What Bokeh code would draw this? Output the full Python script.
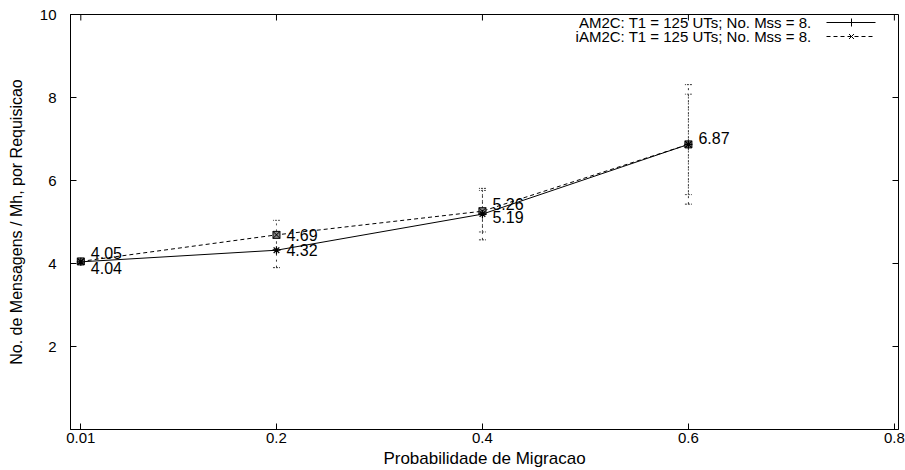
from bokeh.plotting import figure
from bokeh.models import Range1d, FixedTicker, ColumnDataSource, Whisker, TeeHead
from bokeh.core.properties import value
from bokeh.embed import file_html
from bokeh.resources import INLINE

# ---- data ----
prob = [0.01, 0.2, 0.4, 0.6]
am2c = [4.04, 4.32, 5.19, 6.87]
iam2c = [4.05, 4.69, 5.26, 6.87]
err_am2c = [0.03, 0.42, 0.62, 1.44]
err_iam2c = [0.03, 0.35, 0.50, 1.21]
x_ticks = [0.01, 0.2, 0.4, 0.6, 0.8]
x_tick_labels = ["0.01", "0.2", "0.4", "0.6", "0.8"]
y_ticks = [2, 4, 6, 8, 10]
legend_labels = ["AM2C: T1 = 125 UTs; No. Mss = 8.", "iAM2C: T1 = 125 UTs; No. Mss = 8."]
x_label = "Probabilidade de Migracao"
y_label = "No. de Mensagens / Mh, por Requisicao"

# ---- style ----
FONT = "Liberation Sans"
W, H = 905, 470
FL, FR, FT, FB = 70, 898, 14, 429
XMIN, XMAX, YMIN, YMAX = 0.0, 0.804, 0.0, 10.0
TICK = 6

def px2x(px):
    return XMIN + (px - FL) / (FR - FL) * (XMAX - XMIN)

def px2y(py):
    return YMIN + (FB - py) / (FB - FT) * (YMAX - YMIN)

p = figure(width=W, height=H, output_backend="svg", toolbar_location=None,
           x_range=Range1d(XMIN, XMAX), y_range=Range1d(YMIN, YMAX),
           min_border_left=FL, min_border_right=W - FR, min_border_top=FT,
           min_border_bottom=H - FB)
p.background_fill_color = "white"
p.border_fill_color = "white"
p.outline_line_color = "black"
p.outline_line_width = 1
p.xgrid.visible = False
p.ygrid.visible = False

for ax in (p.xaxis[0], p.yaxis[0]):
    ax.major_tick_in = TICK
    ax.major_tick_out = 0
    ax.minor_tick_in = 0
    ax.minor_tick_out = 0
    ax.axis_line_color = "black"
    ax.major_label_text_font = FONT
    ax.major_label_text_font_size = "15px"
    ax.major_label_text_color = "black"
    ax.axis_label_text_font = FONT
    ax.axis_label_text_font_style = "normal"
    ax.axis_label_text_color = "black"

p.xaxis[0].ticker = FixedTicker(ticks=x_ticks)
p.xaxis[0].major_label_overrides = {t: l for t, l in zip(x_ticks, x_tick_labels)}
p.xaxis[0].axis_label = x_label
p.xaxis[0].axis_label_text_font_size = "17px"
p.xaxis[0].major_label_standoff = 3
p.xaxis[0].axis_label_standoff = 3
p.yaxis[0].ticker = FixedTicker(ticks=y_ticks)
p.yaxis[0].axis_label = y_label
p.yaxis[0].axis_label_text_font_size = "16px"
p.yaxis[0].major_label_standoff = 14
p.yaxis[0].axis_label_standoff = 12

# mirrored ticks on top and right edges (gnuplot style)
p.segment(x0=x_ticks, y0=[YMAX] * len(x_ticks), x1=x_ticks,
          y1=[px2y(FT + TICK)] * len(x_ticks), line_color="black", line_width=1)
p.segment(x0=[XMAX] * len(y_ticks), y0=y_ticks, x1=[px2x(FR - TICK)] * len(y_ticks),
          y1=y_ticks, line_color="black", line_width=1)

# error bars
for vals, errs, col in ((am2c, err_am2c, "#333333"), (iam2c, err_iam2c, "#555555")):
    src = ColumnDataSource(dict(x=prob, lo=[v - e for v, e in zip(vals, errs)],
                                hi=[v + e for v, e in zip(vals, errs)]))
    w = Whisker(base="x", lower="lo", upper="hi", source=src, line_color=col,
                line_dash="dotted", line_width=1,
                upper_head=TeeHead(size=7, line_color=col, line_width=1, line_dash="2 1"),
                lower_head=TeeHead(size=7, line_color=col, line_width=1, line_dash="2 1"))
    p.add_layout(w)

# lines
p.line(prob, am2c, line_color="black", line_width=1)
p.line(prob, iam2c, line_color="black", line_width=1, line_dash="4 3")
p.scatter(prob, iam2c, marker="square_x", size=7, line_color="black", fill_color="#888888")
p.scatter(prob, am2c, marker="asterisk", size=8, line_color="black", line_width=1.2)

# value labels
lab_x = prob[:3] + prob[:4]
lab_y = am2c[:3] + iam2c[:4]
lab_t = ["%.2f" % v for v in lab_y]
lab_dy = [6, 0, 3, -8, 0, -7, -6]
p.text(x=lab_x, y=lab_y, text=lab_t, x_offset=10, y_offset=lab_dy,
       text_font=value(FONT), text_font_size="16px", text_align="left",
       text_baseline="middle", text_color="black")

# manual gnuplot-style legend (text left, sample right)
row_y = [px2y(22), px2y(36)]
p.text(x=[px2x(811)] * 2, y=row_y, text=legend_labels, text_font=value(FONT),
       text_font_size="15px", text_align="right", text_baseline="middle",
       text_color="black")
p.segment(x0=[px2x(826)], y0=[row_y[0]], x1=[px2x(875)], y1=[row_y[0]],
          line_color="black", line_width=1)
p.segment(x0=[px2x(826)], y0=[row_y[1]], x1=[px2x(875)], y1=[row_y[1]],
          line_color="black", line_width=1, line_dash="4 3")
p.scatter([px2x(851)], [row_y[0]], marker="cross", size=8, line_color="black")
p.scatter([px2x(851)], [row_y[1]], marker="x", size=7, line_color="black")

open("out.html", "w").write(file_html(p, INLINE))
